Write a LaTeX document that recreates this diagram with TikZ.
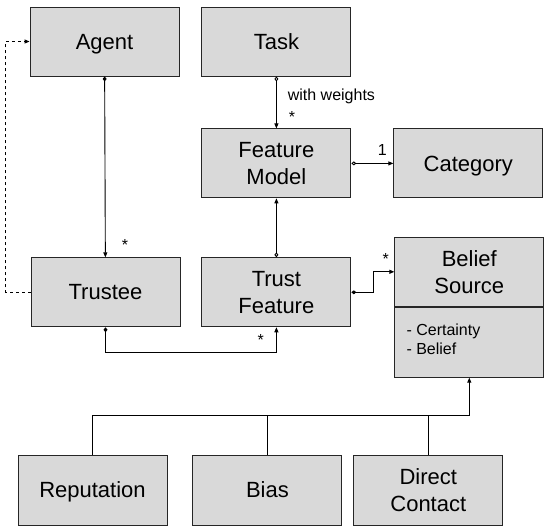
\documentclass[tikz,border=0pt]{standalone}
\usepackage{fontspec}
\setmainfont{Liberation Sans}
\usepackage{tikz}
\usetikzlibrary{arrows.meta, positioning}
\definecolor{boxgray}{HTML}{D9D9D9}

\begin{document}
\begin{tikzpicture}[
      x=1pt, y=1pt,
      block/.style={rectangle, draw=black!85, line width=0.9pt, fill=boxgray,
                    minimum width=149pt, minimum height=69pt, inner sep=2pt,
                    text depth=0pt,
                    align=center, font=\fontsize{22}{27}\selectfont},
      leaf/.style={block, minimum height=70pt},
      attrtext/.style={inner sep=0pt, align=left, font=\fontsize{16}{19}\selectfont},
      mult/.style={inner sep=0pt, font=\fontsize{16}{19}\selectfont},
      link/.style={line width=0.9pt},
      arrow/.style={link, arrows={-Triangle[length=5pt,width=4pt]}},
      aggr/.style={link, arrows={Diamond[open,length=5pt,width=4pt]-Triangle[length=5pt,width=4pt]}},
      comp/.style={link, arrows={Diamond[length=5pt,width=4pt]-Triangle[length=5pt,width=4pt]}}
    ]
        \useasboundingbox (0,0) rectangle (547,-531);
        % classes
        \node[block] (agent) at (104.5,-41.5) {Agent};
        \node[block, right=22pt of agent] (task) {Task};
        \node[block, below=52pt of task] (fmodel) {Feature\\Model};
        \node[block, right=42pt of fmodel] (category) {Category};
        \node[block, below=59pt of fmodel] (tfeature) {Trust\\Feature};
        \node[block, left=21pt of tfeature] (trustee) {Trustee};
        \node[block, right=43pt of tfeature, yshift=20.5pt] (belief) {Belief\\Source};
        \node[leaf, below=0pt of belief] (beliefattr) {};
        \node[attrtext, anchor=north west] (attrs) at ([shift={(12pt,-17pt)}]beliefattr.north west) {- Certainty\\- Belief};
        % sources
        \node[leaf] (reputation) at (92.5,-490) {Reputation};
        \node[leaf, right=25pt of reputation] (bias) {Bias};
        \node[leaf, right=11pt of bias] (contact) {Direct\\Contact};
        % associations
        \draw[comp] (agent) -- (trustee) node[mult, pos=1, above right=6pt and 16pt] {*};
        \draw[aggr] (task) -- (fmodel)
            node[mult, pos=0.38, right=11pt] {with weights}
            node[mult, pos=1, above right=6pt and 12pt] {*};
        \draw[aggr] (fmodel) -- (category) node[mult, pos=0.74, above=7pt] {1};
        \draw[aggr] (tfeature) -- (fmodel);
        \draw[comp] (tfeature.east) -- ++(22,0) |- (belief.west) node[mult, pos=1, above left=7pt and 5pt] {*};
        \draw[comp] (trustee.south) -- ++(0,-25) -| (tfeature.south) node[mult, pos=1, below left=7pt and 12pt] {*};
        \draw[arrow, dashed] (trustee.west) -- ++(-25,0) |- (agent.west);
        % generalisation
        \draw[arrow] (reputation.north) -- ++(0,39) coordinate (bus) -| (beliefattr.south);
        \draw[link] (bias.north) -- (bias.north |- bus);
        \draw[link] (contact.north) -- (contact.north |- bus);
    \end{tikzpicture}
\end{document}
